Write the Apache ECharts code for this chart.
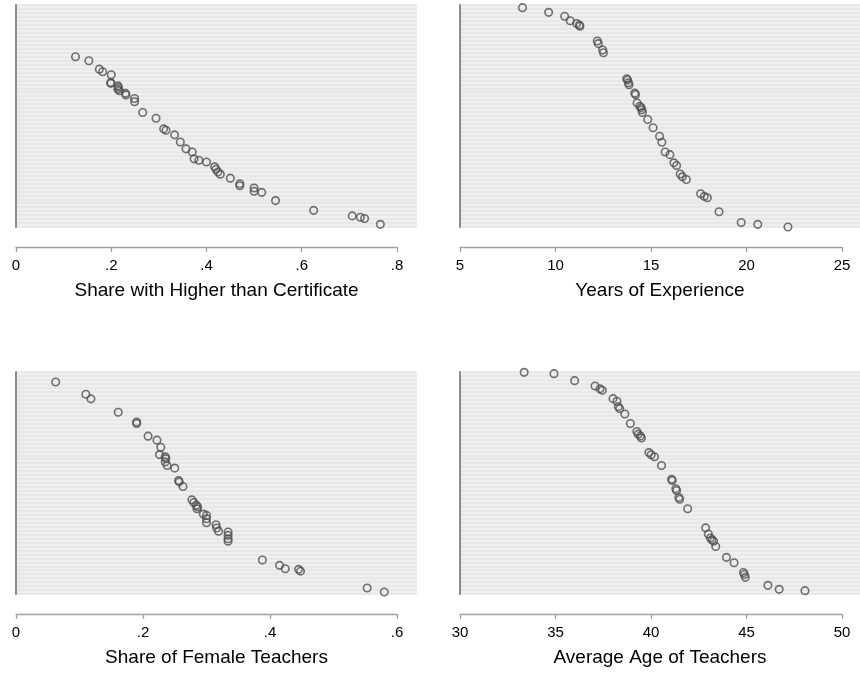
<!DOCTYPE html>
<html>
<head>
<meta charset="utf-8">
<script src="https://cdn.jsdelivr.net/npm/echarts@6/dist/echarts.min.js"></script>
<style>html,body{margin:0;padding:0;background:#fff}#c{width:860px;height:673px}</style>
</head>
<body>
<div id="c"></div>
<script>
// Panel 1: Share with Higher than Certificate
const eduX = [0.125,0.153,0.175,0.182,0.200,0.199,0.199,0.214,0.215,0.214,0.217,0.230,0.231,0.249,0.249,0.266,0.294,0.310,0.315,0.333,0.345,0.357,0.370,0.374,0.384,0.400,0.417,0.420,0.424,0.429,0.450,0.470,0.470,0.500,0.500,0.516,0.545,0.625,0.706,0.723,0.732,0.765];
const eduY = [76.7,74.9,71.1,69.9,68.6,65.1,64.7,63.6,62.9,62.0,61.4,60.2,59.5,57.9,56.4,51.6,49.0,44.2,43.6,41.5,38.3,35.2,33.8,30.7,30.1,29.3,27.1,26.0,24.8,23.8,22.0,19.5,18.6,17.6,16.1,15.6,11.9,7.5,5.0,4.4,3.8,1.2];
// Panel 2: Years of Experience
const expX = [8.27,9.64,10.48,10.77,11.11,11.25,11.28,12.19,12.24,12.47,12.51,13.73,13.77,13.82,13.85,14.15,14.19,14.27,14.41,14.48,14.52,14.55,14.83,15.11,15.45,15.57,15.74,15.99,16.20,16.34,16.53,16.64,16.85,17.60,17.79,17.95,18.56,19.72,20.59,22.17];
const expY = [98.8,96.7,94.9,92.9,91.7,91.0,90.4,83.8,82.6,79.7,78.5,66.8,66.2,65.0,64.1,60.3,59.7,55.9,54.4,53.8,52.8,51.6,48.4,44.7,40.9,38.2,33.8,32.6,28.9,27.7,23.9,22.6,21.4,15.0,13.8,13.2,6.9,2.0,1.2,0.0];
// Panel 3: Share of Female Teachers
const femX = [0.0625,0.110,0.118,0.161,0.190,0.190,0.208,0.222,0.228,0.226,0.235,0.236,0.235,0.238,0.250,0.256,0.257,0.263,0.277,0.280,0.284,0.286,0.285,0.295,0.300,0.300,0.300,0.315,0.316,0.319,0.334,0.334,0.334,0.334,0.388,0.415,0.424,0.445,0.448,0.553,0.580];
const femY = [95.5,90.0,87.9,81.9,77.5,76.8,71.1,69.3,66.1,62.8,61.8,61.0,59.5,57.9,56.7,51.1,50.5,48.4,42.4,41.2,40.0,39.3,38.4,36.0,35.4,33.9,32.1,31.2,29.7,28.3,27.9,26.4,24.9,23.8,15.3,12.9,11.4,11.1,10.3,2.7,0.9];
// Panel 4: Average Age of Teachers
const ageX = [33.36,34.92,36.00,37.07,37.33,37.45,38.01,38.22,38.29,38.36,38.63,38.92,39.26,39.33,39.45,39.50,39.89,40.01,40.18,40.55,41.08,41.11,41.30,41.34,41.46,41.50,41.92,42.86,43.00,43.11,43.19,43.28,43.39,43.95,44.35,44.84,44.89,44.94,46.12,46.71,48.06];
const ageY = [99.85,99.25,96.1,93.7,92.4,91.8,88.0,86.8,84.4,83.5,81.1,76.8,73.2,72.0,71.2,70.3,63.7,62.7,61.8,57.9,51.7,51.1,47.4,46.6,43.5,42.7,38.4,29.8,27.0,25.2,24.4,23.8,21.4,16.5,14.1,9.7,8.8,7.5,3.9,2.1,1.5];

const titles = ['Share with Higher than Certificate','Years of Experience','Share of Female Teachers','Average Age of Teachers'];
const xMins = [0, 5, 0, 30];
const xMaxs = [0.8, 25, 0.6, 50];
const xIntervals = [0.2, 5, 0.2, 5];

const panels = [
  {x: eduX, y: eduY},
  {x: expX, y: expY},
  {x: femX, y: femY},
  {x: ageX, y: ageY}
];
const layout = [
  {left: 16, top: 5, w: 381, bw: 401},
  {left: 460, top: 5, w: 382, bw: 400},
  {left: 16, top: 372, w: 381, bw: 401},
  {left: 460, top: 372, w: 382, bw: 400}
];
const H = 222;
const fmt = v => {
  const s = String(Number(v.toFixed(4)));
  return s.replace(/^0\./, '.');
};

const grid = [], xAxis = [], yAxis = [], series = [];
// background grids (0..3)
layout.forEach((L, i) => {
  grid.push({left: L.left, top: L.top, width: L.bw, height: H, show: true,
    backgroundColor: '#efefef', borderWidth: 0, containLabel: false});
  xAxis.push({type: 'value', gridIndex: i, min: 0, max: 1,
    axisLine: {show: false}, axisTick: {show: false}, axisLabel: {show: false}, splitLine: {show: false},
    name: titles[i], nameLocation: 'middle', nameGap: 54,
    nameTextStyle: {fontSize: 19, color: '#000', fontFamily: 'Liberation Sans, Arial, sans-serif'}});
  yAxis.push({type: 'value', gridIndex: i, min: 0, max: 56, interval: 1,
    axisLine: {show: true, lineStyle: {color: '#8c8c8c', width: 2}},
    axisTick: {show: false}, axisLabel: {show: false},
    splitLine: {show: true, lineStyle: {color: '#e4e4e4', width: 1.5}}});
});
// data grids (4..7)
layout.forEach((L, i) => {
  grid.push({left: L.left, top: L.top, width: L.w, height: H, show: false, containLabel: false});
  xAxis.push({type: 'value', gridIndex: 4 + i, min: xMins[i], max: xMaxs[i], interval: xIntervals[i],
    offset: 20,
    axisLine: {show: true, onZero: false, lineStyle: {color: '#a0a0a0', width: 1.3}},
    axisTick: {show: true, length: 5, lineStyle: {color: '#a0a0a0', width: 1.3}},
    axisLabel: {fontSize: 15, color: '#000', margin: 11, formatter: fmt,
      fontFamily: 'Liberation Sans, Arial, sans-serif'},
    splitLine: {show: false}});
  yAxis.push({type: 'value', gridIndex: 4 + i, min: 0, max: 100, show: false,
    splitLine: {show: false}});
  series.push({type: 'scatter', xAxisIndex: 4 + i, yAxisIndex: 4 + i, clip: false,
    symbol: 'circle', symbolSize: 7.5,
    itemStyle: {color: 'rgba(0,0,0,0)', borderColor: '#4f4f4f', borderWidth: 1.6},
    data: panels[i].x.map((v, k) => [v, panels[i].y[k]]),
    animation: false});
});

const chart = echarts.init(document.getElementById('c'), null, {renderer: 'canvas'});
chart.setOption({animation: false, backgroundColor: '#fff', grid, xAxis, yAxis, series});
</script>
</body>
</html>
